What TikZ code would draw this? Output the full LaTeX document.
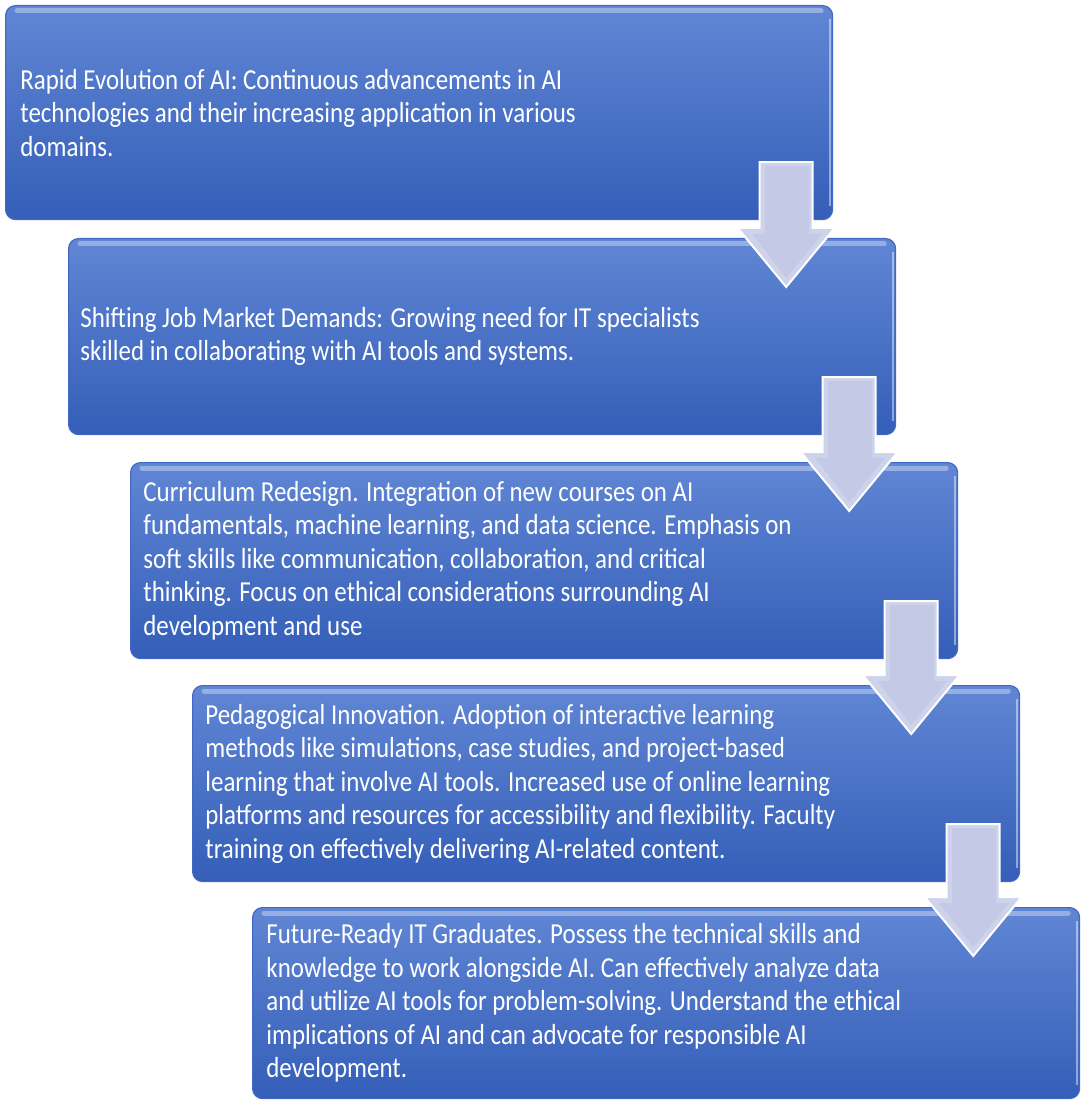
\documentclass[tikz,border=0pt]{standalone}
\usepackage{fontspec}
\setmainfont{Carlito}[FakeStretch=0.86]
\usetikzlibrary{calc}

\definecolor{boxtop}{RGB}{96,134,212}
\definecolor{boxbot}{RGB}{52,94,184}
\definecolor{boxedge}{RGB}{66,104,196}
\definecolor{arrowfill}{RGB}{206,211,236}
\definecolor{arrowcore}{RGB}{196,202,230}

\begin{document}
\begin{tikzpicture}[x = 0.5pt, y = -0.5pt,
  stepbox/.style = {rounded corners = 5pt, top color = boxtop, bottom color = boxbot, draw = boxedge, line width = 0.6pt, minimum width = 413.5pt, minimum height = 98pt, anchor = north west, inner sep = 0pt},
  steptext/.style = {anchor = west, text = white, font = \fontsize{14.5}{16.75}\selectfont, align = left, inner sep = 0pt},
  gloss/.style = {white, opacity = 0.35, line width = 2.5pt, line cap = round},
  rim/.style = {white, opacity = 0.45, line width = 1pt},
  flowarrow/.style = {fill = arrowfill, draw = white, line width = 1pt, line join = miter}]

  \useasboundingbox (0, 0) rectangle (1082, 1101);

  \node [stepbox, minimum height = 107pt] (b1) at (5, 5) {};
  \node [stepbox] (b2) at (68, 238) {};
  \node [stepbox] (b3) at (130, 462) {};
  \node [stepbox] (b4) at (192, 685) {};
  \node [stepbox, minimum height = 95.5pt] (b5) at (252, 907) {};

  \foreach \b in {b1, b2, b3, b4, b5} {
    \draw [gloss] ($(\b.north west) + (12, 6)$) -- ($(\b.north east) + (-12, 6)$);
    \draw [rim] ($(\b.north east) + (-3, 14)$) -- ($(\b.south east) + (-3, -14)$);
  }

  \node [steptext] (t1) at ($(b1.west) + (15, 0)$) {Rapid Evolution of AI: Continuous advancements in AI\\ technologies and their increasing application in various\\ domains.};
  \node [steptext] (t2) at ($(b2.west) + (12, 0)$) {Shifting Job Market Demands: Growing need for IT specialists\\ skilled in collaborating with AI tools and systems.};
  \node [steptext] (t3) at ($(b3.west) + (13, 0)$) {Curriculum Redesign. Integration of new courses on AI\\ fundamentals, machine learning, and data science. Emphasis on\\ soft skills like communication, collaboration, and critical\\ thinking. Focus on ethical considerations surrounding AI\\ development and use};
  \node [steptext] (t4) at ($(b4.west) + (13, 0)$) {Pedagogical Innovation. Adoption of interactive learning\\ methods like simulations, case studies, and project-based\\ learning that involve AI tools. Increased use of online learning\\ platforms and resources for accessibility and flexibility. Faculty\\ training on effectively delivering AI-related content.};
  \node [steptext] (t5) at ($(b5.west) + (14, 0)$) {Future-Ready IT Graduates. Possess the technical skills and\\ knowledge to work alongside AI. Can effectively analyze data\\ and utilize AI tools for problem-solving. Understand the ethical\\ implications of AI and can advocate for responsible AI\\ development.};

  % down arrows from one step to the next
  \foreach \a/\b in {b1/b2, b2/b3, b3/b4, b4/b5} {
    \filldraw [flowarrow] let \p1 = ($(\a.south east) + (-47, -58)$), \p2 = (\b.north) in
      (\x1 - 13.25pt, \y1) -- (\x1 + 13.25pt, \y1) -- (\x1 + 13.25pt, \y2 + 5pt) -- (\x1 + 24.25pt, \y2 + 5pt)
      -- (\x1, \y2 - 24.5pt) -- (\x1 - 24.25pt, \y2 + 5pt) -- (\x1 - 13.25pt, \y2 + 5pt) -- cycle;
    \fill [arrowcore] let \p1 = ($(\a.south east) + (-47, -58)$), \p2 = (\b.north) in
      (\x1 - 10.5pt, \y1 - 2pt) -- (\x1 + 11.5pt, \y1 - 2pt) -- (\x1 + 11.5pt, \y2 + 2pt) -- (\x1 + 18pt, \y2 + 2pt)
      -- (\x1, \y2 - 20pt) -- (\x1 - 17pt, \y2 + 2pt) -- (\x1 - 10.5pt, \y2 + 2pt) -- cycle;
  }

\end{tikzpicture}
\end{document}
